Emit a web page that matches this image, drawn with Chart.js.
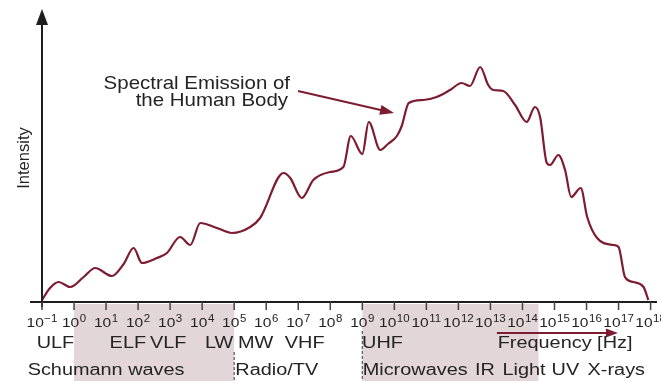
<!DOCTYPE html>
<html><head><meta charset="utf-8">
<script src="https://cdn.jsdelivr.net/npm/chart.js@4"></script>
<style>html,body{margin:0;padding:0;background:#fff}</style>
</head><body>
<canvas id="c" width="661" height="381"></canvas>
<script>
// Frequency in decades (log10 Hz) and relative intensity of the emission curve
const freqDecades = [-1,-0.75,-0.48,-0.12,0.3,0.66,1.18,1.55,1.86,2.12,2.59,2.9,3.31,3.63,3.94,4.46,4.93,5.5,5.81,6.54,6.75,7.11,7.47,7.99,8.41,8.64,9.0,9.2,9.56,9.8,10.08,10.23,10.45,10.91,11.32,11.74,12.1,12.36,12.68,12.93,13.09,13.4,13.77,14.13,14.39,14.55,14.76,14.86,15.12,15.33,15.52,15.82,16.02,16.33,16.84,17.0,17.2,17.46,17.78,17.93];
const intensity   = [2,14,20,15,25,34,26,38,54,39,44,49,65,57,79,74,69,75,84,129,124,104,122,130,135,166,148,180,152,158,166,176,199,202,205,212,219,216,235,217,212,211,197,180,195,185,139,137,147,132,105,114,85,64,57,55,25,20,15,2];
const tickExponents = [-1,0,1,2,3,4,5,6,7,8,9,10,11,12,13,14,15,16,17,18];
const bandRow1 = ['ULF','ELF','VLF','LW','MW','VHF','UHF'];
const bandRow1At = [-0.58,1.68,2.94,4.53,5.67,7.2,9.63];
const bandRow2 = ['Schumann waves','Radio/TV','Microwaves','IR','Light','UV','X-rays'];
const bandRow2At = [1.0,6.33,10.65,12.83,14.05,15.34,16.93];
const shadedRanges = [[0,5],[9,14.5]];
const dividers = [5,9];
const axisTitleX = 'Frequency [Hz]';
const axisTitleXAt = 15.33;
const freqArrowRange = [13.2, 16.98];
const axisTitleY = 'Intensity';
const noteLines = ['Spectral Emission of','the Human Body'];

const SX = 1.15;
const FONT = '"Liberation Sans", Arial, sans-serif';
const TXT = '#242424';
const RED = '#7d1c30';
const FS = 17.3;
const FS_NOTE = 17.8;

function stretchText(ctx, s, cx, cy, size, align) {
  ctx.save();
  ctx.font = size + 'px ' + FONT;
  const w = ctx.measureText(s).width * SX;
  let x0 = cx - w / 2;
  if (align === 'right') x0 = cx - w;
  if (align === 'left') x0 = cx;
  ctx.translate(x0, cy);
  ctx.scale(SX, 1);
  ctx.textAlign = 'left';
  ctx.textBaseline = 'middle';
  ctx.fillText(s, 0, 0);
  ctx.restore();
}
function arrowHead(ctx, x1, y1, x2, y2, len, half) {
  const a = Math.atan2(y2 - y1, x2 - x1);
  ctx.beginPath();
  ctx.moveTo(x2, y2);
  ctx.lineTo(x2 - len * Math.cos(a) + half * Math.sin(a), y2 - len * Math.sin(a) - half * Math.cos(a));
  ctx.lineTo(x2 - len * Math.cos(a) - half * Math.sin(a), y2 - len * Math.sin(a) + half * Math.cos(a));
  ctx.closePath();
  ctx.fill();
}

const deco = {
  id: 'deco',
  beforeDatasetsDraw(chart) {
    const ctx = chart.ctx, xs = chart.scales.x, ys = chart.scales.y;
    const base = ys.getPixelForValue(0);
    ctx.save();
    ctx.fillStyle = '#e2d6d8';
    shadedRanges.forEach(([a, b]) => {
      const x1 = xs.getPixelForValue(a), x2 = xs.getPixelForValue(b);
      ctx.fillRect(x1, base + 2, x2 - x1, chart.height - base);
    });
    ctx.restore();
  },
  afterDatasetsDraw(chart) {
    const ctx = chart.ctx, xs = chart.scales.x, ys = chart.scales.y;
    const base = ys.getPixelForValue(0);
    const x0 = xs.getPixelForValue(-1);
    ctx.save();
    // axes
    ctx.strokeStyle = '#1e1e1e';
    ctx.fillStyle = '#1e1e1e';
    ctx.lineWidth = 2;
    ctx.beginPath();
    ctx.moveTo(30, base); ctx.lineTo(chart.chartArea.right, base);
    ctx.moveTo(x0, base + 5); ctx.lineTo(x0, 20);
    ctx.stroke();
    arrowHead(ctx, x0, 40, x0, 9, 16, 6);
    // ticks
    ctx.lineWidth = 1.5;
    ctx.strokeStyle = '#444';
    tickExponents.forEach(e => {
      const x = xs.getPixelForValue(e);
      ctx.beginPath(); ctx.moveTo(x, base); ctx.lineTo(x, base + 8); ctx.stroke();
    });
    // tick labels
    ctx.fillStyle = TXT;
    tickExponents.forEach(e => {
      const x = xs.getPixelForValue(e);
      const b = '10', s = (e < 0 ? '\u2212' : '') + Math.abs(e);
      ctx.font = '13.5px ' + FONT; const wb = ctx.measureText(b).width;
      ctx.font = '10px ' + FONT; const ws = ctx.measureText(s).width;
      const tot = (wb + ws + 0.5) * SX;
      ctx.save();
      ctx.translate(x - tot / 2, base + 21);
      ctx.scale(SX, 1);
      ctx.textBaseline = 'middle'; ctx.textAlign = 'left';
      ctx.font = '13.5px ' + FONT; ctx.fillText(b, 0, 0);
      ctx.font = '10px ' + FONT; ctx.fillText(s, wb + 0.5, -4);
      ctx.restore();
    });
    // dividers
    ctx.strokeStyle = '#555';
    ctx.lineWidth = 1.2;
    ctx.setLineDash([3, 2]);
    const divTop = [352, 331];
    dividers.forEach((d, i) => {
      const x = xs.getPixelForValue(d);
      ctx.beginPath(); ctx.moveTo(x, divTop[i]); ctx.lineTo(x, chart.height); ctx.stroke();
    });
    ctx.setLineDash([]);
    // band labels
    ctx.fillStyle = TXT;
    bandRow1.forEach((t, i) => stretchText(ctx, t, xs.getPixelForValue(bandRow1At[i]), base + 41, FS, 'center'));
    bandRow2.forEach((t, i) => stretchText(ctx, t, xs.getPixelForValue(bandRow2At[i]), base + 68, FS, 'center'));
    stretchText(ctx, axisTitleX, xs.getPixelForValue(axisTitleXAt), base + 41, FS, 'center');
    // frequency arrow
    ctx.strokeStyle = RED; ctx.fillStyle = RED; ctx.lineWidth = 2;
    const fa = xs.getPixelForValue(freqArrowRange[0]), fb = xs.getPixelForValue(freqArrowRange[1]);
    ctx.beginPath(); ctx.moveTo(fa, base + 31); ctx.lineTo(fb - 8, base + 31); ctx.stroke();
    arrowHead(ctx, fa, base + 31, fb, base + 31, 12, 4.5);
    // annotation
    ctx.fillStyle = TXT;
    stretchText(ctx, noteLines[0], 290, 84, FS_NOTE, 'right');
    stretchText(ctx, noteLines[1], 288, 101, FS_NOTE, 'right');
    ctx.strokeStyle = RED; ctx.fillStyle = RED; ctx.lineWidth = 2;
    ctx.beginPath(); ctx.moveTo(298, 91); ctx.lineTo(385, 111); ctx.stroke();
    arrowHead(ctx, 298, 91, 394, 113, 14, 5);
    // y title
    ctx.fillStyle = TXT;
    ctx.save();
    ctx.translate(24, 158); ctx.rotate(-Math.PI / 2);
    ctx.font = '16.5px ' + FONT; ctx.textAlign = 'center'; ctx.textBaseline = 'middle';
    ctx.fillText(axisTitleY, 0, 0);
    ctx.restore();
    ctx.restore();
  }
};

new Chart(document.getElementById('c'), {
  type: 'line',
  data: {
    datasets: [{
      data: freqDecades.map((d, i) => ({ x: d, y: intensity[i] })),
      borderColor: RED,
      borderWidth: 2.2,
      pointRadius: 0,
      cubicInterpolationMode: 'monotone',
      fill: false,
      clip: false
    }]
  },
  options: {
    responsive: false,
    animation: false,
    events: [],
    layout: { padding: { left: 42, right: 4, top: 12, bottom: 79 } },
    plugins: { legend: { display: false }, tooltip: { enabled: false } },
    scales: {
      x: { type: 'linear', min: -1, max: 18.2, display: false },
      y: { type: 'linear', min: 0, max: 290, display: false }
    }
  },
  plugins: [deco]
});
</script>
</body></html>
